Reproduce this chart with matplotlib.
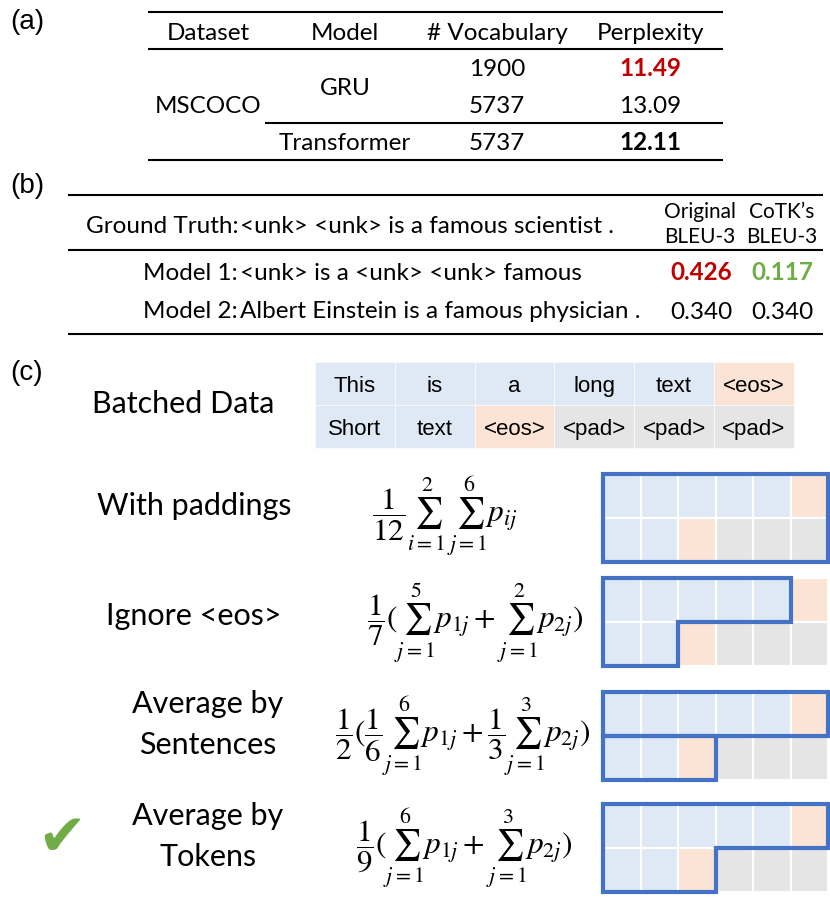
import matplotlib.pyplot as plt
from matplotlib.patches import Rectangle, Polygon

plt.rcParams['mathtext.fontset'] = 'stix'

# (a) perplexity table
head_a = ['Dataset', 'Model', '# Vocabulary', 'Perplexity']
vocab = ['1900', '5737', '5737']
perplexity = ['11.49', '13.09', '12.11']
ppl_style = [('#C00000', 'bold'), ('black', 'normal'), ('black', 'bold')]

# (b) bleu example
b_labels = ['Ground Truth:', 'Model 1:', 'Model 2:']
b_sents = ['<unk> <unk> is a famous scientist .',
           '<unk> is a <unk> <unk> famous',
           'Albert Einstein is a famous physician .']
bleu_orig = ['0.426', '0.340']
bleu_cotk = ['0.117', '0.340']

# (c) batched data and loss averaging
batch = [['This', 'is', 'a', 'long', 'text', '<eos>'],
         ['Short', 'text', '<eos>', '<pad>', '<pad>', '<pad>']]
cell_col = {'tok': '#DEE9F5', '<eos>': '#FBE4D6', '<pad>': '#E5E5E5'}
methods = ['With paddings', 'Ignore <eos>', 'Average by\nSentences', 'Average by\nTokens']
formulas = [r'$\dfrac{1}{12}\sum_{i=1}^{2}\,\sum_{j=1}^{6}p_{ij}$',
            r'$\dfrac{1}{7}(\sum_{j=1}^{5}p_{1j}+\sum_{j=1}^{2}p_{2j})$',
            r'$\dfrac{1}{2}(\dfrac{1}{6}\sum_{j=1}^{6}p_{1j}+\dfrac{1}{3}\sum_{j=1}^{3}p_{2j})$',
            r'$\dfrac{1}{9}(\sum_{j=1}^{6}p_{1j}+\sum_{j=1}^{3}p_{2j})$']
# counted tokens per row, grouped into outlined regions
groups = [[[6, 6]], [[5, 2]], [[6], [0, 3]], [[6, 3]]]

fig = plt.figure(figsize=(8.3, 9.01), dpi=100)
ax = fig.add_axes([0, 0, 1, 1])
ax.set_xlim(0, 830)
ax.set_ylim(901, 0)
ax.axis('off')

tf = 'Lato'
fs = 17.5
lab = dict(family='Liberation Sans', fontsize=20, va='center', ha='left')


def txt(x, y, s, ha='center', **kw):
    kw.setdefault('fontsize', fs)
    ax.text(x, y, s, family=tf, ha=ha, va='baseline', **kw)


# ---- (a)
ax.text(10, 22, '(a)', **lab)
for y, x0 in [(12, 148), (49, 148), (123, 265), (160, 148)]:
    ax.plot([x0, 723], [y, y], color='black', lw=1.5, solid_capstyle='butt')
xa = [208, 345, 497, 650]
for x, h in zip(xa, head_a):
    txt(x, 40, h)
txt(xa[0], 113, 'MSCOCO')
txt(xa[1], 95, 'GRU')
txt(xa[1], 150, 'Transformer')
for i, y in enumerate([76, 113, 150]):
    txt(xa[2], y, vocab[i])
    c, w = ppl_style[i]
    txt(xa[3], y, perplexity[i], color=c, weight=w)

# ---- (b)
ax.text(10, 186, '(b)', **lab)
for y in [195, 250, 334]:
    ax.plot([68, 823], [y, y], color='black', lw=1.5, solid_capstyle='butt')
for lbl, s, y in zip(b_labels, b_sents, [233, 280, 318]):
    txt(238, y, lbl, ha='right')
    txt(240, y, s, ha='left')
for x, t1 in [(700, 'Original'), (782, 'CoTK\u2019s')]:
    txt(x, 218, t1, fontsize=15)
    txt(x, 243, 'BLEU-3', fontsize=15)
txt(701, 280, bleu_orig[0], color='#C00000', weight='bold')
txt(782, 280, bleu_cotk[0], color='#70AD47', weight='bold')
txt(701, 319, bleu_orig[1])
txt(782, 319, bleu_cotk[1])

# ---- (c)
ax.text(10, 373, '(c)', **lab)
bx, by, bw, bh = 315, 362, 79.8, 43
for r, row in enumerate(batch):
    for c, tok in enumerate(row):
        fc = cell_col.get(tok, cell_col['tok'])
        ax.add_patch(Rectangle((bx + c * bw, by + r * bh), bw, bh, fc=fc,
                               ec='white', lw=0.4))
        ax.text(bx + (c + 0.5) * bw, [392, 435][r], tok,
                family='Liberation Sans', fontsize=16, ha='center', va='baseline')
txt(183, 413, 'Batched Data', fontsize=22)

gx, gw, gh = 603, 37.5, 44
tops = [474, 578, 692, 804]
label_x = [194, 194, 208, 208]
label_y = [515, 625, 713, 825]
form_x = [445, 475, 463, 464]
form_y = [517, 623, 737, 849]
for k in range(4):
    top = tops[k]
    for r, row in enumerate(batch):
        for c, tok in enumerate(row):
            fc = cell_col.get(tok, cell_col['tok'])
            ax.add_patch(Rectangle((gx + c * gw, top + r * gh), gw, gh, fc=fc,
                                   ec='white', lw=1.5))
    for g in groups[k]:
        # rows with zero length are skipped at the top
        r0 = next(i for i, n in enumerate(g) if n > 0)
        lens = g[r0:]
        pts = [(gx, top + r0 * gh)]
        for i, n in enumerate(lens):
            pts.append((gx + n * gw, top + (r0 + i) * gh))
            pts.append((gx + n * gw, top + (r0 + i + 1) * gh))
        pts.append((gx, top + (r0 + len(lens)) * gh))
        ax.add_patch(Polygon(pts, closed=True, fill=False, ec='#4472C4', lw=3,
                             joinstyle='miter'))
    ax.text(form_x[k], form_y[k], formulas[k], fontsize=22.5, ha='center', va='center')
    for n, line in enumerate(methods[k].split('\n')):
        txt(label_x[k], label_y[k] + 41 * n, line, fontsize=22)

ax.text(62, 838, '\u2714', family='DejaVu Sans', fontsize=42, color='#70AD47',
        ha='center', va='center')

fig.savefig('out.png', dpi=100)
